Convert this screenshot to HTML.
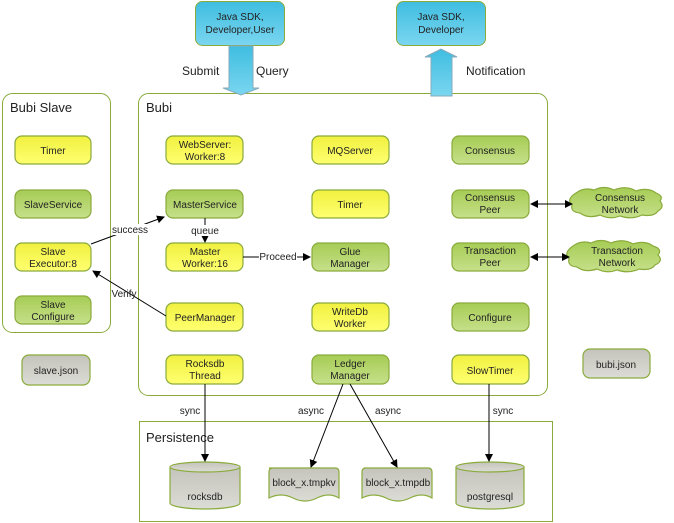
<!DOCTYPE html>
<html><head><meta charset="utf-8"><style>
body{margin:0;background:#fff}
svg{display:block;font-family:"Liberation Sans",sans-serif}
</style></head><body>
<svg width="674" height="523" viewBox="0 0 674 523" xmlns="http://www.w3.org/2000/svg">
<defs>
<linearGradient id="y" x1="0" y1="0" x2="0" y2="1"><stop offset="0" stop-color="#f0f040"/><stop offset="1" stop-color="#ffff70"/></linearGradient>
<linearGradient id="g" x1="0" y1="0" x2="0" y2="1"><stop offset="0" stop-color="#a6cc55"/><stop offset="1" stop-color="#c6e08a"/></linearGradient>
<linearGradient id="b" x1="0" y1="0" x2="0" y2="1"><stop offset="0" stop-color="#3fbde0"/><stop offset="1" stop-color="#7ad6f0"/></linearGradient>
<linearGradient id="gr" x1="0" y1="0" x2="0" y2="1"><stop offset="0" stop-color="#c4c4bc"/><stop offset="1" stop-color="#dcdcd6"/></linearGradient>
<marker id="a" markerWidth="8" markerHeight="8" refX="7" refY="4" orient="auto" markerUnits="userSpaceOnUse"><path d="M0,0 L8,4 L0,8z" fill="#000"/></marker>
<marker id="as" markerWidth="8" markerHeight="8" refX="1" refY="4" orient="auto" markerUnits="userSpaceOnUse"><path d="M8,0 L0,4 L8,8z" fill="#000"/></marker>
</defs>
<g fill="none" stroke="#8aab3c" stroke-width="1">
<rect x="2.5" y="93.5" width="108" height="239" rx="10"/>
<rect x="138.5" y="93.5" width="409" height="302" rx="10"/>
<rect x="139.5" y="421.5" width="413" height="100"/>
</g>
<g font-size="13" fill="#222">
<text x="10" y="112">Bubi Slave</text>
<text x="146" y="112">Bubi</text>
<text x="146" y="442">Persistence</text>
<text x="182" y="75" font-size="12">Submit</text>
<text x="256" y="75" font-size="12">Query</text>
<text x="466" y="75" font-size="12">Notification</text>
</g>
<!-- blue boxes -->
<rect x="195.5" y="1.5" width="89" height="44" rx="7" fill="url(#b)" stroke="#8aab3c"/>
<rect x="396.5" y="1.5" width="89" height="44" rx="7" fill="url(#b)" stroke="#8aab3c"/>
<g font-size="10" fill="#222" text-anchor="middle">
<text x="240" y="20">Java SDK,</text><text x="240" y="33">Developer,User</text>
<text x="441" y="20">Java SDK,</text><text x="441" y="33">Developer</text>
</g>
<path d="M229,46 H253 V88 H259 L241,95 L223,88 H229Z" fill="url(#b)" stroke="#8ab"/>
<path d="M431,96 V57 H425 L441,49 L457,57 H452 V96Z" fill="url(#b)" stroke="#8ab"/>
<!-- nodes -->
<g stroke="#8aab3c" stroke-width="1.2">
<rect x="15" y="136" width="76" height="28" rx="7" fill="url(#y)"/>
<rect x="15" y="190" width="76" height="28" rx="7" fill="url(#g)"/>
<rect x="15" y="243" width="76" height="28" rx="7" fill="url(#y)"/>
<rect x="15" y="296" width="76" height="28" rx="7" fill="url(#g)"/>
<rect x="166" y="136" width="77" height="28" rx="7" fill="url(#y)"/>
<rect x="166" y="190" width="77" height="28" rx="7" fill="url(#g)"/>
<rect x="166" y="243" width="77" height="28" rx="7" fill="url(#y)"/>
<rect x="166" y="303" width="77" height="28" rx="7" fill="url(#y)"/>
<rect x="166" y="355" width="77" height="29" rx="7" fill="url(#y)"/>
<rect x="312" y="136" width="77" height="28" rx="7" fill="url(#y)"/>
<rect x="312" y="190" width="77" height="28" rx="7" fill="url(#y)"/>
<rect x="312" y="243" width="77" height="28" rx="7" fill="url(#g)"/>
<rect x="312" y="303" width="77" height="28" rx="7" fill="url(#y)"/>
<rect x="312" y="355" width="77" height="29" rx="7" fill="url(#g)"/>
<rect x="452" y="136" width="77" height="28" rx="7" fill="url(#g)"/>
<rect x="452" y="190" width="77" height="28" rx="7" fill="url(#g)"/>
<rect x="452" y="243" width="77" height="28" rx="7" fill="url(#g)"/>
<rect x="452" y="303" width="77" height="28" rx="7" fill="url(#g)"/>
<rect x="452" y="355" width="77" height="29" rx="7" fill="url(#y)"/>
<rect x="22" y="355" width="68" height="30" rx="7" fill="url(#gr)"/>
<rect x="583" y="349" width="67" height="29" rx="7" fill="url(#gr)"/>
<path d="M576,193 q8,-6 18,-3 q10,-5 20,0 q12,-5 22,1 q12,-4 20,2 q8,3 4,8 q5,6 -2,10 q-4,6 -16,4 q-10,5 -22,1 q-10,4 -20,-1 q-12,4 -20,-2 q-10,-1 -8,-8 q-6,-6 4,-12z" fill="url(#g)"/>
<path d="M573,246 q8,-6 18,-3 q10,-5 20,0 q12,-5 22,1 q12,-4 20,2 q10,3 5,9 q6,6 -3,10 q-4,6 -16,4 q-10,5 -22,1 q-10,4 -20,-1 q-12,4 -20,-2 q-10,-1 -8,-8 q-6,-6 4,-13z" fill="url(#g)"/>
<path d="M170,467 v36 a35,6 0 0 0 70,0 v-36" fill="url(#gr)"/>
<ellipse cx="205" cy="467" rx="35" ry="5" fill="url(#gr)"/>
<path d="M456,467 v36 a34,6 0 0 0 68,0 v-36" fill="url(#gr)"/>
<ellipse cx="490" cy="467" rx="34" ry="5" fill="url(#gr)"/>
<path d="M269,468 h66 q4,0 4,4 v26 q-10,-6 -22,0 q-12,6 -24,0 q-12,-6 -24,0 v-26 q0,-4 4,-4z" fill="url(#gr)"/>
<path d="M364,468 h64 q4,0 4,4 v26 q-10,-6 -22,0 q-12,6 -24,0 q-12,-6 -24,0 v-26 q0,-4 4,-4z" fill="url(#gr)"/>
</g>
<g font-size="10" fill="#222" text-anchor="middle">
<text x="53" y="154">Timer</text>
<text x="53" y="208">SlaveService</text>
<text x="53" y="255">Slave</text><text x="53" y="267">Executor:8</text>
<text x="53" y="308">Slave</text><text x="53" y="320">Configure</text>
<text x="205" y="148">WebServer:</text><text x="205" y="160">Worker:8</text>
<text x="205" y="208">MasterService</text>
<text x="205" y="255">Master</text><text x="205" y="267">Worker:16</text>
<text x="205" y="321">PeerManager</text>
<text x="205" y="367">Rocksdb</text><text x="205" y="379">Thread</text>
<text x="350" y="154">MQServer</text>
<text x="350" y="208">Timer</text>
<text x="350" y="255">Glue</text><text x="350" y="267">Manager</text>
<text x="350" y="315">WriteDb</text><text x="350" y="327">Worker</text>
<text x="350" y="367">Ledger</text><text x="350" y="379">Manager</text>
<text x="490" y="154">Consensus</text>
<text x="490" y="201">Consensus</text><text x="490" y="213">Peer</text>
<text x="490" y="254">Transaction</text><text x="490" y="266">Peer</text>
<text x="490" y="321">Configure</text>
<text x="490" y="374">SlowTimer</text>
<text x="620" y="201">Consensus</text><text x="620" y="213">Network</text>
<text x="617" y="254">Transaction</text><text x="617" y="266">Network</text>
<text x="56" y="374">slave.json</text>
<text x="616" y="368">bubi.json</text>
<text x="205" y="500">rocksdb</text>
<text x="304" y="486">block_x.tmpkv</text>
<text x="398" y="486">block_x.tmpdb</text>
<text x="490" y="500">postgresql</text>
</g>
<!-- connectors -->
<g stroke="#000" stroke-width="1" fill="none">
<line x1="91" y1="244" x2="164" y2="217" marker-end="url(#a)"/>
<line x1="166" y1="316" x2="93" y2="271" marker-end="url(#a)"/>
<line x1="205" y1="218" x2="205" y2="242" marker-end="url(#a)"/>
<line x1="243" y1="257" x2="310" y2="257" marker-end="url(#a)"/>
<line x1="531" y1="204" x2="572" y2="204" marker-end="url(#a)" marker-start="url(#as)"/>
<line x1="531" y1="257" x2="569" y2="257" marker-end="url(#a)" marker-start="url(#as)"/>
<line x1="205" y1="384" x2="205" y2="461" marker-end="url(#a)"/>
<line x1="343" y1="384" x2="311" y2="467" marker-end="url(#a)"/>
<line x1="350" y1="384" x2="397" y2="467" marker-end="url(#a)"/>
<line x1="489" y1="384" x2="489" y2="461" marker-end="url(#a)"/>
</g>
<g font-size="10" fill="#222" text-anchor="middle">
<rect x="112" y="224" width="36" height="11" fill="#fff"/>
<text x="130" y="233">success</text>
<rect x="190" y="225" width="30" height="11" fill="#fff"/>
<text x="205" y="234">queue</text>
<rect x="259" y="251" width="38" height="11" fill="#fff"/>
<text x="278" y="260">Proceed</text>
<text x="124" y="297">Verify</text>
<text x="190" y="414">sync</text>
<text x="311" y="414">async</text>
<text x="388" y="414">async</text>
<text x="503" y="414">sync</text>
</g>
</svg>
</body></html>
